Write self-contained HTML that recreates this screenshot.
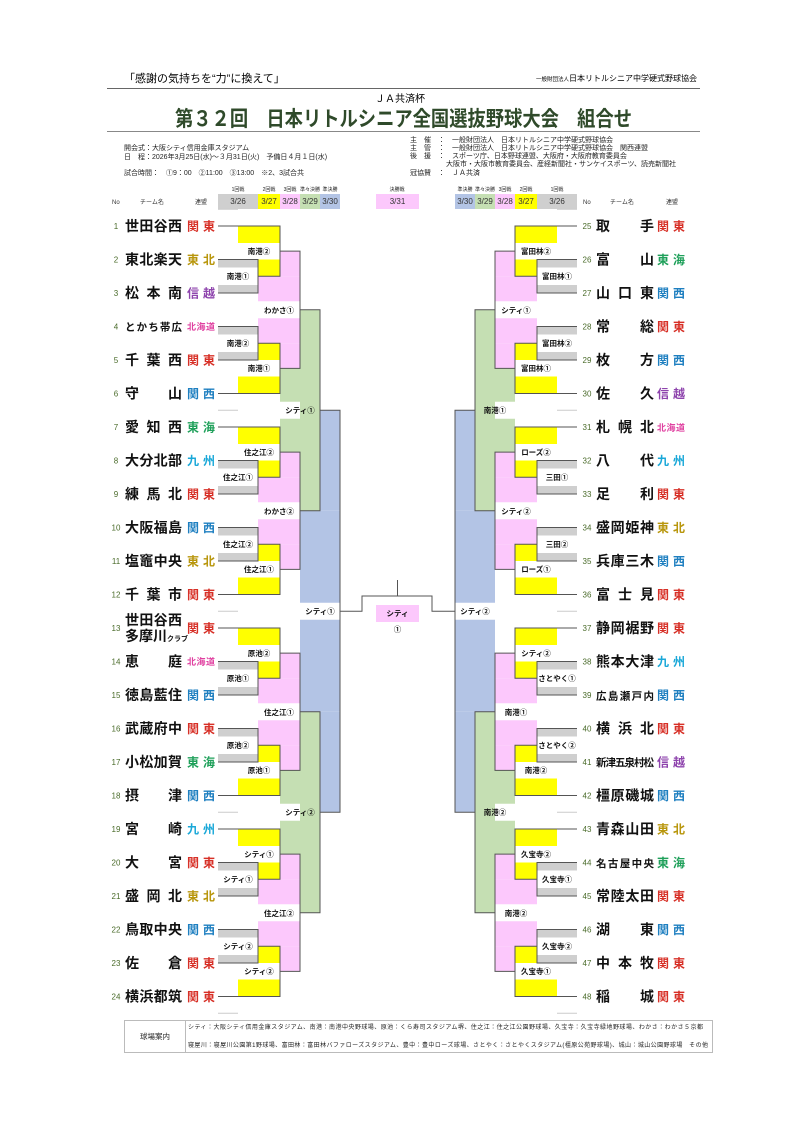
<!DOCTYPE html>
<html><head><meta charset="utf-8"><style>
html,body{margin:0;padding:0;background:#fff}
svg{display:block}
text{font-family:"Liberation Sans","Noto Sans CJK JP",sans-serif}
.n{font-size:14px;font-weight:bold;fill:#111}
.s{font-size:10.5px;font-weight:bold;fill:#111}
.r{font-size:12px;font-weight:bold}
.no{font-size:8px;fill:#4a6b2a;text-anchor:middle}
.lb{font-size:7.5px;font-weight:bold;fill:#111;text-anchor:middle}
.k{fill:#d73027}.t{fill:#b8960c}.sh{fill:#8e44ad}.h{fill:#e040a0}.ks{fill:#1e7fc0}.tk{fill:#1fa05a}.q{fill:#1aa8d8}
.i{font-size:7px;fill:#222}
</style></head><body>
<svg width="800" height="1131" viewBox="0 0 800 1131" xmlns="http://www.w3.org/2000/svg">
<defs>
<g id="grp">
<rect x="218" y="33.5" width="40" height="8" fill="#cfcfcf"/><rect x="218" y="59" width="40" height="8" fill="#cfcfcf"/>
<rect x="218" y="100.5" width="40" height="8" fill="#cfcfcf"/><rect x="218" y="126" width="40" height="8" fill="#cfcfcf"/>
<rect x="238" y="0" width="42" height="17" fill="#ffff00"/><rect x="258" y="33.5" width="22" height="16.75" fill="#ffff00"/>
<rect x="258" y="117.25" width="22" height="16.75" fill="#ffff00"/><rect x="238" y="150.5" width="42" height="17" fill="#ffff00"/>
<rect x="280" y="25.125" width="20" height="25.125" fill="#fcc8fc"/><rect x="258" y="50.25" width="42" height="25" fill="#fcc8fc"/>
<rect x="258" y="92.25" width="42" height="25" fill="#fcc8fc"/><rect x="280" y="117.25" width="20" height="25.125" fill="#fcc8fc"/>
<path d="M218,0H280V50.25H258 M218,33.5H258V67H218 M218,100.5H258V134H218 M258,117.25H280V167.5H218 M280,25.125H300V142.375H280" fill="none" stroke="#555" stroke-width="1"/>
</g>
<g id="qf">
<rect x="300" y="83.75" width="20" height="201" fill="#c5dfb3"/>
<rect x="280" y="142.375" width="40" height="33.375" fill="#c5dfb3"/>
<rect x="280" y="192.75" width="40" height="33.375" fill="#c5dfb3"/>
<path d="M300,83.75H320V284.75H300" fill="none" stroke="#555"/>
</g>
<g id="sf">
<rect x="320" y="184.25" width="20" height="100.5" fill="#b3c4e5"/>
<rect x="300" y="284.75" width="40" height="92" fill="#b3c4e5"/>
<rect x="300" y="393.75" width="40" height="92" fill="#b3c4e5"/>
<rect x="320" y="485.75" width="20" height="100.5" fill="#b3c4e5"/>
<path d="M320,184.25H340V586.25H320" fill="none" stroke="#555"/>
</g>
<g id="L">
<use href="#sf" transform="translate(0,226)"/>
<use href="#qf" transform="translate(0,226)"/>
<use href="#qf" transform="translate(0,628)"/>
<use href="#grp" transform="translate(0,226)"/>
<use href="#grp" transform="translate(0,427)"/>
<use href="#grp" transform="translate(0,628)"/>
<use href="#grp" transform="translate(0,829)"/>
<path d="M218,209.25H238 M218,410.25H238 M218,611.25H238 M218,812.25H238 M218,1013.25H238" stroke="#ccc"/>
</g>
</defs>

<!-- header -->
<text x="124" y="82" font-size="11">「感謝の気持ちを“力”に換えて」</text>
<text x="697" y="81" font-size="8" text-anchor="end"><tspan font-size="5.5">一般財団法人</tspan>日本リトルシニア中学硬式野球協会</text>
<line x1="107" y1="88.5" x2="700" y2="88.5" stroke="#666"/>
<text x="400" y="102" font-size="10" text-anchor="middle">ＪＡ共済杯</text>
<text x="175" y="126" font-size="21" font-weight="bold" fill="#2f4a2a" textLength="457" lengthAdjust="spacingAndGlyphs">第３２回　日本リトルシニア全国選抜野球大会　組合せ</text>
<line x1="107" y1="131.5" x2="700" y2="131.5" stroke="#888"/>
<text class="i" x="124" y="150">開会式：大阪シティ信用金庫スタジアム</text>
<text class="i" x="124" y="159">日　程：2026年3月25日(水)～３月31日(火)　予備日４月１日(水)</text>
<text class="i" x="124" y="175">試合時間：　①9：00　②11:00　③13:00　※2、3試合共</text>
<text class="i" x="410" y="142">主　催　：　一般財団法人　日本リトルシニア中学硬式野球協会</text>
<text class="i" x="410" y="150">主　管　：　一般財団法人　日本リトルシニア中学硬式野球協会　関西連盟</text>
<text class="i" x="410" y="158">後　援　：　スポーツ庁、日本野球連盟、大阪府・大阪府教育委員会</text>
<text class="i" x="446" y="166">大阪市・大阪市教育委員会、産経新聞社・サンケイスポーツ、読売新聞社</text>
<text class="i" x="410" y="175">冠協賛　：　ＪＡ共済</text>

<!-- round header -->
<g font-size="5" text-anchor="middle" fill="#222">
<text x="238" y="191">1回戦</text><text x="269" y="191">2回戦</text><text x="290" y="191">3回戦</text><text x="310" y="191">準々決勝</text><text x="330" y="191">準決勝</text>
<text x="397" y="191">決勝戦</text>
<text x="465" y="191">準決勝</text><text x="485" y="191">準々決勝</text><text x="505" y="191">3回戦</text><text x="526" y="191">2回戦</text><text x="557" y="191">1回戦</text>
</g>
<rect x="218" y="194" width="40" height="15" fill="#cfcfcf"/><rect x="258" y="194" width="22" height="15" fill="#ffff00"/><rect x="280" y="194" width="20" height="15" fill="#fcc8fc"/><rect x="300" y="194" width="20" height="15" fill="#c5dfb3"/><rect x="320" y="194" width="20" height="15" fill="#b3c4e5"/>
<rect x="376" y="194" width="43" height="15" fill="#fcc8fc"/>
<rect x="455" y="194" width="20" height="15" fill="#b3c4e5"/><rect x="475" y="194" width="20" height="15" fill="#c5dfb3"/><rect x="495" y="194" width="20" height="15" fill="#fcc8fc"/><rect x="515" y="194" width="22" height="15" fill="#ffff00"/><rect x="537" y="194" width="40" height="15" fill="#cfcfcf"/>
<g font-size="8" text-anchor="middle" fill="#333">
<text x="238" y="204">3/26</text><text x="269" y="204">3/27</text><text x="290" y="204">3/28</text><text x="310" y="204">3/29</text><text x="330" y="204">3/30</text>
<text x="397.5" y="204">3/31</text>
<text x="465" y="204">3/30</text><text x="485" y="204">3/29</text><text x="505" y="204">3/28</text><text x="526" y="204">3/27</text><text x="557" y="204">3/26</text>
</g>
<g font-size="6" fill="#333">
<text x="112" y="204">No</text><text x="140" y="204">チーム名</text><text x="195" y="204">連盟</text>
<text x="583" y="204">No</text><text x="610" y="204">チーム名</text><text x="666" y="204">連盟</text>
</g>

<!-- brackets -->
<use href="#L"/>
<use href="#L" transform="translate(795,0) scale(-1,1)"/>
<path d="M340,611.25H362V596H432V611.25H455 M397.5,580V596" fill="none" stroke="#555"/>
<rect x="376" y="605" width="43" height="17" fill="#fcc8fc"/>
<text class="lb" x="397.5" y="616">シティ</text>
<text class="lb" x="397.5" y="632">①</text>

<!-- match labels left -->
<text class="lb" x="238" y="279">南港①</text><text class="lb" x="259" y="254">南港②</text><text class="lb" x="279" y="313">わかさ①</text><text class="lb" x="238" y="346">南港②</text><text class="lb" x="259" y="371">南港①</text>
<text class="lb" x="238" y="480">住之江①</text><text class="lb" x="259" y="455">住之江②</text><text class="lb" x="279" y="514">わかさ②</text><text class="lb" x="238" y="547">住之江②</text><text class="lb" x="259" y="572">住之江①</text>
<text class="lb" x="238" y="681">原池①</text><text class="lb" x="259" y="656">原池②</text><text class="lb" x="279" y="715">住之江①</text><text class="lb" x="238" y="748">原池②</text><text class="lb" x="259" y="773">原池①</text>
<text class="lb" x="238" y="882">シティ①</text><text class="lb" x="259" y="857">シティ①</text><text class="lb" x="279" y="916">住之江②</text><text class="lb" x="238" y="949">シティ②</text><text class="lb" x="259" y="974">シティ②</text>
<text class="lb" x="300" y="413">シティ①</text><text class="lb" x="300" y="815">シティ②</text><text class="lb" x="320" y="614">シティ①</text>
<!-- match labels right -->
<text class="lb" x="557" y="279">富田林①</text><text class="lb" x="536" y="254">富田林②</text><text class="lb" x="516" y="313">シティ①</text><text class="lb" x="557" y="346">富田林②</text><text class="lb" x="536" y="371">富田林①</text>
<text class="lb" x="557" y="480">三田①</text><text class="lb" x="536" y="455">ローズ②</text><text class="lb" x="516" y="514">シティ②</text><text class="lb" x="557" y="547">三田②</text><text class="lb" x="536" y="572">ローズ①</text>
<text class="lb" x="557" y="681">さとやく①</text><text class="lb" x="536" y="656">シティ②</text><text class="lb" x="516" y="715">南港①</text><text class="lb" x="557" y="748">さとやく②</text><text class="lb" x="536" y="773">南港②</text>
<text class="lb" x="557" y="882">久宝寺①</text><text class="lb" x="536" y="857">久宝寺②</text><text class="lb" x="516" y="916">南港②</text><text class="lb" x="557" y="949">久宝寺②</text><text class="lb" x="536" y="974">久宝寺①</text>
<text class="lb" x="495" y="413">南港①</text><text class="lb" x="495" y="815">南港②</text><text class="lb" x="475" y="614">シティ②</text>

<!-- left teams -->
<g>
<text class="no" x="116" y="229">1</text><text class="n" x="125" y="231" textLength="57" lengthAdjust="spacing">世田谷西</text><text class="r k" x="187" y="230.5" textLength="28" lengthAdjust="spacing">関東</text>
<text class="no" x="116" y="262.5">2</text><text class="n" x="125" y="264.5" textLength="57" lengthAdjust="spacing">東北楽天</text><text class="r t" x="187" y="264" textLength="28" lengthAdjust="spacing">東北</text>
<text class="no" x="116" y="296">3</text><text class="n" x="125" y="298" textLength="57" lengthAdjust="spacing">松本南</text><text class="r sh" x="187" y="297.5" textLength="28" lengthAdjust="spacing">信越</text>
<text class="no" x="116" y="329.5">4</text><text class="s" x="125" y="330.5" textLength="57" lengthAdjust="spacing">とかち帯広</text><text class="h" font-size="9" font-weight="bold" x="187" y="330" textLength="28" lengthAdjust="spacing">北海道</text>
<text class="no" x="116" y="363">5</text><text class="n" x="125" y="365" textLength="57" lengthAdjust="spacing">千葉西</text><text class="r k" x="187" y="364.5" textLength="28" lengthAdjust="spacing">関東</text>
<text class="no" x="116" y="396.5">6</text><text class="n" x="125" y="398.5" textLength="57" lengthAdjust="spacing">守山</text><text class="r ks" x="187" y="398" textLength="28" lengthAdjust="spacing">関西</text>
<text class="no" x="116" y="430">7</text><text class="n" x="125" y="432" textLength="57" lengthAdjust="spacing">愛知西</text><text class="r tk" x="187" y="431.5" textLength="28" lengthAdjust="spacing">東海</text>
<text class="no" x="116" y="463.5">8</text><text class="n" x="125" y="465.5" textLength="57" lengthAdjust="spacing">大分北部</text><text class="r q" x="187" y="465" textLength="28" lengthAdjust="spacing">九州</text>
<text class="no" x="116" y="497">9</text><text class="n" x="125" y="499" textLength="57" lengthAdjust="spacing">練馬北</text><text class="r k" x="187" y="498.5" textLength="28" lengthAdjust="spacing">関東</text>
<text class="no" x="116" y="530.5">10</text><text class="n" x="125" y="532.5" textLength="57" lengthAdjust="spacing">大阪福島</text><text class="r ks" x="187" y="532" textLength="28" lengthAdjust="spacing">関西</text>
<text class="no" x="116" y="564">11</text><text class="n" x="125" y="566" textLength="57" lengthAdjust="spacing">塩竈中央</text><text class="r t" x="187" y="565.5" textLength="28" lengthAdjust="spacing">東北</text>
<text class="no" x="116" y="597.5">12</text><text class="n" x="125" y="599.5" textLength="57" lengthAdjust="spacing">千葉市</text><text class="r k" x="187" y="599" textLength="28" lengthAdjust="spacing">関東</text>
<text class="no" x="116" y="631">13</text><text class="n" font-size="12" x="125" y="625" textLength="57" lengthAdjust="spacing">世田谷西</text><text class="n" font-size="12" x="125" y="641">多摩川<tspan font-size="7">クラブ</tspan></text><text class="r k" x="187" y="632.5" textLength="28" lengthAdjust="spacing">関東</text>
<text class="no" x="116" y="664.5">14</text><text class="n" x="125" y="666.5" textLength="57" lengthAdjust="spacing">恵庭</text><text class="h" font-size="9" font-weight="bold" x="187" y="665" textLength="28" lengthAdjust="spacing">北海道</text>
<text class="no" x="116" y="698">15</text><text class="n" x="125" y="700" textLength="57" lengthAdjust="spacing">徳島藍住</text><text class="r ks" x="187" y="699.5" textLength="28" lengthAdjust="spacing">関西</text>
<text class="no" x="116" y="731.5">16</text><text class="n" x="125" y="733.5" textLength="57" lengthAdjust="spacing">武蔵府中</text><text class="r k" x="187" y="733" textLength="28" lengthAdjust="spacing">関東</text>
<text class="no" x="116" y="765">17</text><text class="n" x="125" y="767" textLength="57" lengthAdjust="spacing">小松加賀</text><text class="r tk" x="187" y="766.5" textLength="28" lengthAdjust="spacing">東海</text>
<text class="no" x="116" y="798.5">18</text><text class="n" x="125" y="800.5" textLength="57" lengthAdjust="spacing">摂津</text><text class="r ks" x="187" y="800" textLength="28" lengthAdjust="spacing">関西</text>
<text class="no" x="116" y="832">19</text><text class="n" x="125" y="834" textLength="57" lengthAdjust="spacing">宮崎</text><text class="r q" x="187" y="833.5" textLength="28" lengthAdjust="spacing">九州</text>
<text class="no" x="116" y="865.5">20</text><text class="n" x="125" y="867.5" textLength="57" lengthAdjust="spacing">大宮</text><text class="r k" x="187" y="867" textLength="28" lengthAdjust="spacing">関東</text>
<text class="no" x="116" y="899">21</text><text class="n" x="125" y="901" textLength="57" lengthAdjust="spacing">盛岡北</text><text class="r t" x="187" y="900.5" textLength="28" lengthAdjust="spacing">東北</text>
<text class="no" x="116" y="932.5">22</text><text class="n" x="125" y="934.5" textLength="57" lengthAdjust="spacing">鳥取中央</text><text class="r ks" x="187" y="934" textLength="28" lengthAdjust="spacing">関西</text>
<text class="no" x="116" y="966">23</text><text class="n" x="125" y="968" textLength="57" lengthAdjust="spacing">佐倉</text><text class="r k" x="187" y="967.5" textLength="28" lengthAdjust="spacing">関東</text>
<text class="no" x="116" y="999.5">24</text><text class="n" x="125" y="1001.5" textLength="57" lengthAdjust="spacing">横浜都筑</text><text class="r k" x="187" y="1001" textLength="28" lengthAdjust="spacing">関東</text>
</g>

<!-- right teams -->
<g>
<text class="no" x="587" y="229">25</text><text class="n" x="596" y="231" textLength="58" lengthAdjust="spacing">取手</text><text class="r k" x="657" y="230.5" textLength="28" lengthAdjust="spacing">関東</text>
<text class="no" x="587" y="262.5">26</text><text class="n" x="596" y="264.5" textLength="58" lengthAdjust="spacing">富山</text><text class="r tk" x="657" y="264" textLength="28" lengthAdjust="spacing">東海</text>
<text class="no" x="587" y="296">27</text><text class="n" x="596" y="298" textLength="58" lengthAdjust="spacing">山口東</text><text class="r ks" x="657" y="297.5" textLength="28" lengthAdjust="spacing">関西</text>
<text class="no" x="587" y="329.5">28</text><text class="n" x="596" y="331.5" textLength="58" lengthAdjust="spacing">常総</text><text class="r k" x="657" y="331" textLength="28" lengthAdjust="spacing">関東</text>
<text class="no" x="587" y="363">29</text><text class="n" x="596" y="365" textLength="58" lengthAdjust="spacing">枚方</text><text class="r ks" x="657" y="364.5" textLength="28" lengthAdjust="spacing">関西</text>
<text class="no" x="587" y="396.5">30</text><text class="n" x="596" y="398.5" textLength="58" lengthAdjust="spacing">佐久</text><text class="r sh" x="657" y="398" textLength="28" lengthAdjust="spacing">信越</text>
<text class="no" x="587" y="430">31</text><text class="n" x="596" y="432" textLength="58" lengthAdjust="spacing">札幌北</text><text class="h" font-size="9" font-weight="bold" x="657" y="431" textLength="28" lengthAdjust="spacing">北海道</text>
<text class="no" x="587" y="463.5">32</text><text class="n" x="596" y="465.5" textLength="58" lengthAdjust="spacing">八代</text><text class="r q" x="657" y="465" textLength="28" lengthAdjust="spacing">九州</text>
<text class="no" x="587" y="497">33</text><text class="n" x="596" y="499" textLength="58" lengthAdjust="spacing">足利</text><text class="r k" x="657" y="498.5" textLength="28" lengthAdjust="spacing">関東</text>
<text class="no" x="587" y="530.5">34</text><text class="n" x="596" y="532.5" textLength="58" lengthAdjust="spacing">盛岡姫神</text><text class="r t" x="657" y="532" textLength="28" lengthAdjust="spacing">東北</text>
<text class="no" x="587" y="564">35</text><text class="n" x="596" y="566" textLength="58" lengthAdjust="spacing">兵庫三木</text><text class="r ks" x="657" y="565.5" textLength="28" lengthAdjust="spacing">関西</text>
<text class="no" x="587" y="597.5">36</text><text class="n" x="596" y="599.5" textLength="58" lengthAdjust="spacing">富士見</text><text class="r k" x="657" y="599" textLength="28" lengthAdjust="spacing">関東</text>
<text class="no" x="587" y="631">37</text><text class="n" x="596" y="633" textLength="58" lengthAdjust="spacing">静岡裾野</text><text class="r k" x="657" y="632.5" textLength="28" lengthAdjust="spacing">関東</text>
<text class="no" x="587" y="664.5">38</text><text class="n" x="596" y="666.5" textLength="58" lengthAdjust="spacing">熊本大津</text><text class="r q" x="657" y="666" textLength="28" lengthAdjust="spacing">九州</text>
<text class="no" x="587" y="698">39</text><text class="s" font-size="9.5" x="596" y="699.5" textLength="58" lengthAdjust="spacing">広島瀬戸内</text><text class="r ks" x="657" y="699.5" textLength="28" lengthAdjust="spacing">関西</text>
<text class="no" x="587" y="731.5">40</text><text class="n" x="596" y="733.5" textLength="58" lengthAdjust="spacing">横浜北</text><text class="r k" x="657" y="733" textLength="28" lengthAdjust="spacing">関東</text>
<text class="no" x="587" y="765">41</text><text class="s" font-size="8.5" x="596" y="766" textLength="58" lengthAdjust="spacing">新津五泉村松</text><text class="r sh" x="657" y="766.5" textLength="28" lengthAdjust="spacing">信越</text>
<text class="no" x="587" y="798.5">42</text><text class="n" x="596" y="800.5" textLength="58" lengthAdjust="spacing">橿原磯城</text><text class="r ks" x="657" y="800" textLength="28" lengthAdjust="spacing">関西</text>
<text class="no" x="587" y="832">43</text><text class="n" x="596" y="834" textLength="58" lengthAdjust="spacing">青森山田</text><text class="r t" x="657" y="833.5" textLength="28" lengthAdjust="spacing">東北</text>
<text class="no" x="587" y="865.5">44</text><text class="s" font-size="9.5" x="596" y="867" textLength="58" lengthAdjust="spacing">名古屋中央</text><text class="r tk" x="657" y="867" textLength="28" lengthAdjust="spacing">東海</text>
<text class="no" x="587" y="899">45</text><text class="n" x="596" y="901" textLength="58" lengthAdjust="spacing">常陸太田</text><text class="r k" x="657" y="900.5" textLength="28" lengthAdjust="spacing">関東</text>
<text class="no" x="587" y="932.5">46</text><text class="n" x="596" y="934.5" textLength="58" lengthAdjust="spacing">湖東</text><text class="r ks" x="657" y="934" textLength="28" lengthAdjust="spacing">関西</text>
<text class="no" x="587" y="966">47</text><text class="n" x="596" y="968" textLength="58" lengthAdjust="spacing">中本牧</text><text class="r k" x="657" y="967.5" textLength="28" lengthAdjust="spacing">関東</text>
<text class="no" x="587" y="999.5">48</text><text class="n" x="596" y="1001.5" textLength="58" lengthAdjust="spacing">稲城</text><text class="r k" x="657" y="1001" textLength="28" lengthAdjust="spacing">関東</text>
</g>

<!-- footer -->
<rect x="124.5" y="1020.5" width="588" height="32" fill="none" stroke="#bbb"/>
<line x1="185.5" y1="1020.5" x2="185.5" y2="1052.5" stroke="#bbb"/>
<text x="155" y="1039" font-size="7.5" text-anchor="middle" fill="#222">球場案内</text>
<text x="188" y="1029" font-size="6" fill="#222" textLength="515" lengthAdjust="spacing">シティ：大阪シティ信用金庫スタジアム、南港：南港中央野球場、原池：くら寿司スタジアム堺、住之江：住之江公園野球場、久宝寺：久宝寺緑地野球場、わかさ：わかさ５京都</text>
<text x="188" y="1047" font-size="6" fill="#222" textLength="520" lengthAdjust="spacing">寝屋川：寝屋川公園第1野球場、富田林：富田林バファローズスタジアム、豊中：豊中ローズ球場、さとやく：さとやくスタジアム(橿原公苑野球場)、城山：城山公園野球場　その他</text>
</svg>
</body></html>
